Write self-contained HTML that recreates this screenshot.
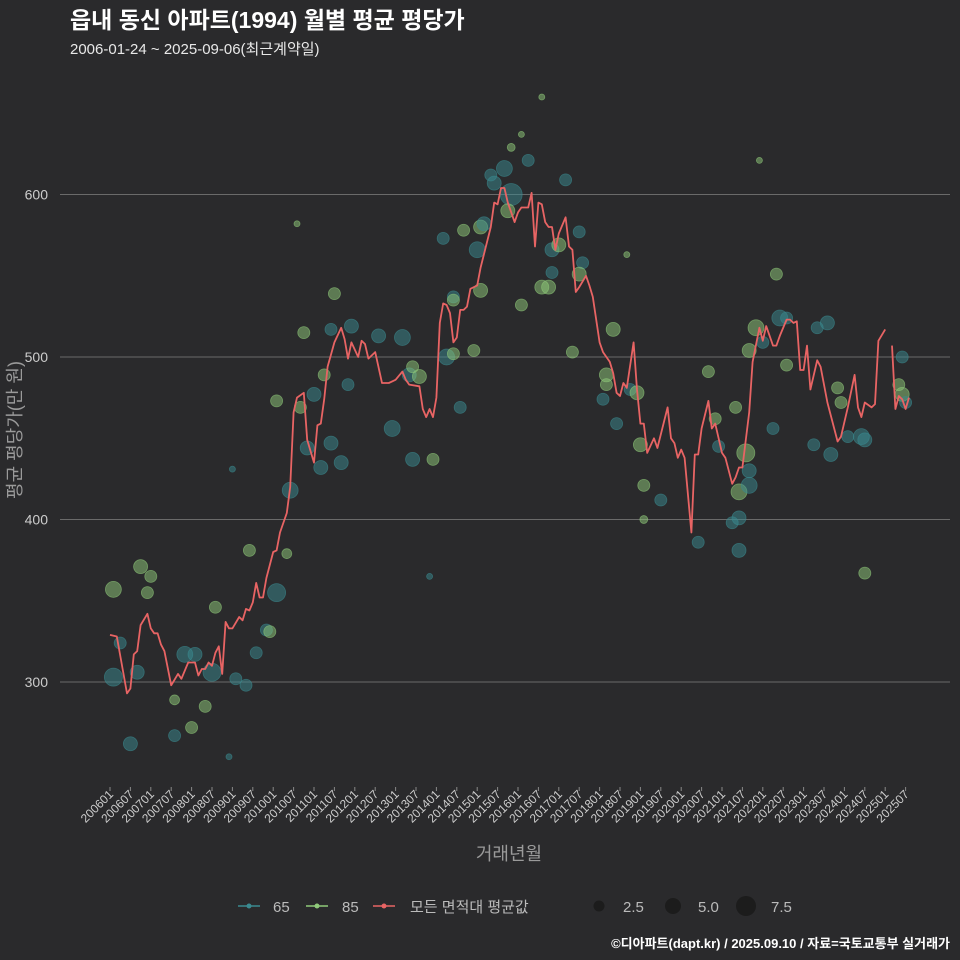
<!DOCTYPE html>
<html><head><meta charset="utf-8"><style>
body{margin:0;background:#2a2a2c;}
svg{display:block;font-family:"Liberation Sans","Noto Sans CJK KR",sans-serif;}
</style></head><body>
<svg id="chart" width="960" height="960" viewBox="0 0 960 960">
<rect width="960" height="960" fill="#2a2a2c"/>
<text x="70" y="28" fill="#ffffff" font-size="23" font-weight="bold">읍내 동신 아파트(1994) 월별 평균 평당가</text>
<text x="70" y="54" fill="#e8e8e8" font-size="15">2006-01-24 ~ 2025-09-06(최근계약일)</text>
<g id="grid"></g>
<g id="bubbles"></g>
<g id="line"></g>
<g id="xaxis"></g>
<text x="509" y="860" fill="#9a9a9a" font-size="18" text-anchor="middle">거래년월</text>
<text transform="translate(21,430) rotate(-90)" fill="#9a9a9a" font-size="18" text-anchor="middle">평균 평당가(만 원)</text>
<g>
 <g><line x1="238" y1="906" x2="260" y2="906" stroke="#3a8a90" stroke-width="1.5"/><circle cx="249" cy="906" r="2.5" fill="#3a8a90"/><text x="273" y="912" fill="#bbb" font-size="15">65</text></g>
 <g><line x1="306" y1="906" x2="328" y2="906" stroke="#8fc97a" stroke-width="1.5"/><circle cx="317" cy="906" r="2.5" fill="#8fc97a"/><text x="342" y="912" fill="#bbb" font-size="15">85</text></g>
 <g><line x1="373" y1="906" x2="395" y2="906" stroke="#e86464" stroke-width="1.5"/><circle cx="384" cy="906" r="2.5" fill="#e86464"/><text x="410" y="912" fill="#bbb" font-size="15">모든 면적대 평균값</text></g>
 <g><circle cx="599" cy="906" r="5.5" fill="#1c1c1c"/><text x="623" y="912" fill="#bbb" font-size="15">2.5</text></g>
 <g><circle cx="673" cy="906" r="8" fill="#1c1c1c"/><text x="698" y="912" fill="#bbb" font-size="15">5.0</text></g>
 <g><circle cx="746" cy="906" r="10" fill="#1c1c1c"/><text x="771" y="912" fill="#bbb" font-size="15">7.5</text></g>
</g>
<text x="950" y="948" fill="#ffffff" font-size="13" font-weight="bold" text-anchor="end">©디아파트(dapt.kr) / 2025.09.10 / 자료=국토교통부 실거래가</text>
</svg>
<script>
const yTicks=[300,400,500,600];
const lineMonths=[0,2,5,6,7,8,9,11,12,13,14,15,16,18,20,21,23,25,26,27,28,29,30,31,32,33,34,35,36,38,39,40,41,42,43,44,45,46,48,49,50,52,53,54,55,57,58,60,61,62,63,64,66,68,69,70,71,73,74,75,76,78,80,82,84,86,87,88,91,92,93,94,95,96,97,98,99,100,101,102,103,104,105,106,108,109,112,113,114,115,116,117,119,120,121,123,124,125,126,127,128,129,130,131,132,134,135,136,137,138,140,141,142,144,145,147,148,149,150,151,152,154,155,156,157,158,160,161,164,165,166,167,168,169,171,172,173,174,176,177,178,180,181,183,184,185,186,188,189,191,192,193,195,196,197,199,200,201,202,203,204,205,206,208,209,211,213,214,215,217,219,220,221,222,224,225,226,228,229,230,231,232,233,234,235];
const lineValues=[329,328,293,296,317,319,335,342,333,330,330,323,319,298,305,302,312,312,304,308,308,312,310,318,322,305,337,333,333,340,338,345,344,349,361,352,352,364,380,381,392,404,420,466,475,478,449,435,458,459,474,494,509,518,511,499,509,500,510,508,499,503,484,484,486,491,486,483,482,468,463,468,463,475,521,533,532,527,509,512,529,529,531,542,544,555,580,595,594,604,604,595,583,589,592,592,601,568,595,594,583,580,580,566,576,586,568,566,540,543,550,544,537,509,503,497,490,478,476,484,481,509,480,459,459,441,450,444,469,450,447,438,443,438,392,440,440,456,473,456,459,441,438,422,426,432,432,466,497,518,510,519,507,507,513,523,523,521,522,492,492,507,480,498,494,472,456,448,451,469,489,469,463,472,469,471,510,517,null,507,468,476,474,468,475];
const bubbleMonths=[1,1,6,9,12,11,3,8,19,19,24,28,31,22,25,30,37,40,43,41,46,47,49,49,52,53,56,62,58,60,57,65,66,71,70,65,63,68,79,86,83,89,88,91,89,95,98,101,101,99,101,103,104,107,108,109,109,110,112,113,116,118,117,121,118,123,130,132,130,127,129,134,138,139,138,136,146,146,148,145,149,156,153,155,157,162,157,173,176,178,179,184,183,185,185,187,188,188,185,190,188,192,195,196,197,199,199,208,211,207,212,214,215,217,221,222,222,232,233,233,234,36,55,35,127,191,121,94,152];
const bubbleValues=[303,357,262,371,365,355,324,306,267,289,272,285,346,317,317,306,302,298,318,381,332,331,355,473,379,418,469,432,444,477,515,447,539,519,483,517,489,435,513,512,456,437,489,488,494,437,573,537,535,500,502,469,578,504,566,580,541,582,612,607,616,600,590,532,629,621,566,569,552,543,543,609,577,558,551,503,483,489,517,474,459,446,480,478,421,412,400,386,491,462,445,469,398,401,417,441,421,430,381,518,504,509,456,551,524,524,495,518,521,446,440,481,472,451,451,449,367,483,500,477,472,431,582,254,660,621,637,365,563];
const bubbleSizes=[6.3,4.9,3.8,3.8,2.8,2.8,2.8,3.8,2.8,1.9,2.8,2.8,2.8,4.9,3.8,6.3,2.8,2.8,2.8,2.8,2.8,2.8,6.3,2.8,1.9,4.9,2.8,3.8,3.8,3.8,2.8,3.8,2.8,3.8,2.8,2.8,2.8,3.8,3.8,4.9,4.9,3.8,3.8,3.8,2.8,2.8,2.8,2.8,2.8,4.9,2.8,2.8,2.8,2.8,4.9,3.8,3.8,3.8,2.8,3.8,4.9,9.3,3.8,2.8,1.2,2.8,3.8,3.8,2.8,3.8,3.8,2.8,2.8,2.8,3.8,2.8,2.8,3.8,3.8,2.8,2.8,3.8,2.8,3.8,2.8,2.8,1.2,2.8,2.8,2.8,2.8,2.8,2.8,3.8,4.9,6.3,4.9,3.8,3.8,4.9,3.8,2.8,2.8,2.8,4.9,2.8,2.8,2.8,3.8,2.8,3.8,2.8,2.8,2.8,4.9,3.8,2.8,2.8,2.8,3.8,2.8,0.7,0.7,0.7,0.7,0.7,0.7,0.7,0.7];
const bubbleTypes=["65","85","65","85","85","85","65","65","65","85","85","85","85","65","65","65","65","65","65","85","65","85","65","85","85","65","85","65","65","65","85","65","85","65","65","65","85","65","65","65","65","65","65","85","85","85","65","65","85","65","85","65","85","85","65","85","85","65","65","65","65","65","85","85","85","65","65","85","65","85","85","65","65","65","85","85","85","85","85","65","65","85","65","85","85","65","85","65","85","85","65","85","65","65","85","85","65","65","65","85","85","65","65","85","65","65","85","65","65","65","65","85","85","65","65","65","85","85","65","85","65","65","85","65","85","85","85","65","85"];
const NS="http://www.w3.org/2000/svg";
const X0=110,XPM=3.40;
function xs(m){return X0+m*XPM;}
function ys(v){return 682-(v-300)*1.625;}
const grid=document.getElementById('grid');
yTicks.forEach(t=>{
 const l=document.createElementNS(NS,'line');
 l.setAttribute('x1',60);l.setAttribute('x2',950);l.setAttribute('y1',ys(t));l.setAttribute('y2',ys(t));
 l.setAttribute('stroke','#6a6a6a');l.setAttribute('stroke-width','1');
 
 
 grid.appendChild(l);
 const tx=document.createElementNS(NS,'text');
 tx.setAttribute('x',48);tx.setAttribute('y',ys(t)+5);tx.setAttribute('text-anchor','end');
 tx.setAttribute('fill','#cccccc');tx.setAttribute('font-size','14');tx.textContent=t;
 
 
 grid.appendChild(tx);
});
const bg=document.getElementById('bubbles');
bubbleMonths.forEach((m,i)=>{
 const c=document.createElementNS(NS,'circle');
 const r=3.6*Math.sqrt(bubbleSizes[i]);
 c.setAttribute('cx',xs(m));c.setAttribute('cy',ys(bubbleValues[i]));c.setAttribute('r',r);
 const col=bubbleTypes[i]==="65"?"#3a8a90":"#8fc97a";
 c.setAttribute('fill',col);c.setAttribute('fill-opacity','0.5');
 c.setAttribute('stroke',col);c.setAttribute('stroke-opacity','0.6');c.setAttribute('stroke-width','0.8');
 
 
 bg.appendChild(c);
});
const lg=document.getElementById('line');
let d='',pen=false;
lineMonths.forEach((m,i)=>{
 const v=lineValues[i];
 if(v===null){pen=false;return;}
 d+=(pen?'L':'M')+xs(m).toFixed(1)+','+ys(v).toFixed(1);pen=true;
});
const p=document.createElementNS(NS,'path');
p.setAttribute('d',d);p.setAttribute('fill','none');p.setAttribute('stroke','#e86464');p.setAttribute('stroke-width','1.8');
p.setAttribute('stroke-linejoin','round');


lg.appendChild(p);
const xa=document.getElementById('xaxis');
for(let m=0;m<=234;m+=6){
 const yr=2006+Math.floor(m/12),mo=(m%12)+1;
 const lab=''+yr+(mo<10?'0':'')+mo;
 const x=xs(m);
 const tk=document.createElementNS(NS,'line');
 tk.setAttribute('x1',x);tk.setAttribute('x2',x);tk.setAttribute('y1',787);tk.setAttribute('y2',791);
 tk.setAttribute('stroke','#888');
 
 
 xa.appendChild(tk);
 const t=document.createElementNS(NS,'text');
 t.setAttribute('transform','translate('+(x+4)+',795) rotate(-45)');
 t.setAttribute('text-anchor','end');t.setAttribute('fill','#cccccc');t.setAttribute('font-size','12');
 t.textContent=lab;
 
 
 xa.appendChild(t);
}
</script>
</body></html>
